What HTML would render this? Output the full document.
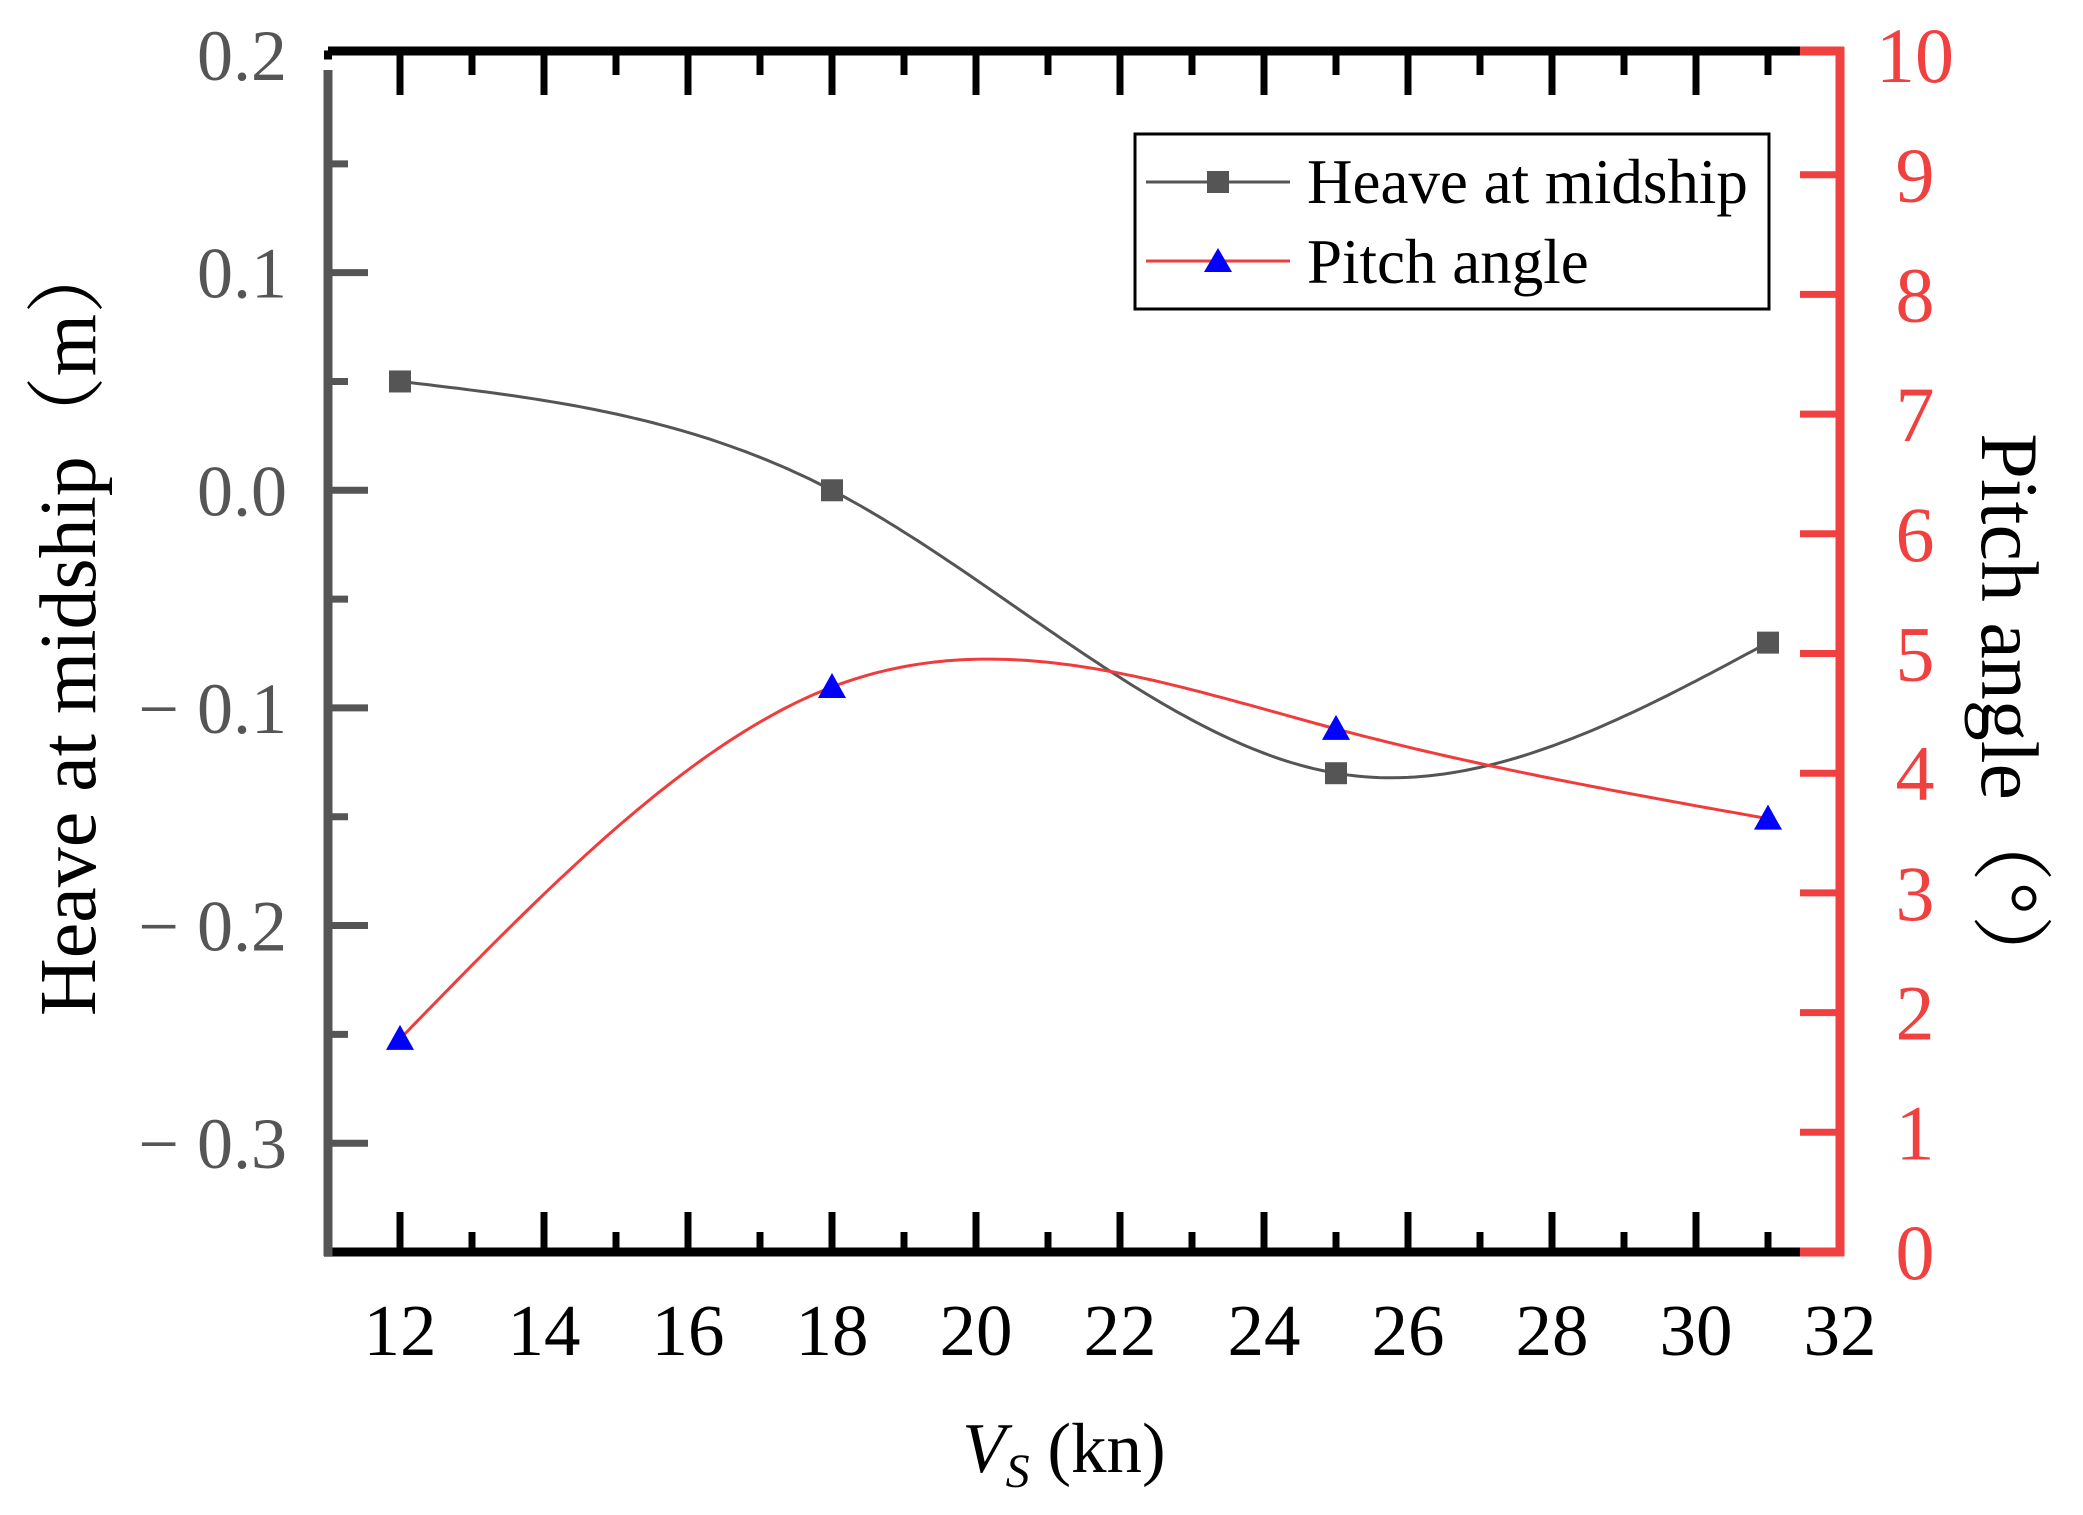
<!DOCTYPE html>
<html><head><meta charset="utf-8"><style>
html,body{margin:0;padding:0;background:#fff;}
svg{display:block;font-family:"Liberation Serif","Noto Serif CJK SC",serif;}
</style></head><body>
<svg id="s" width="2083" height="1515" viewBox="0 0 2083 1515" xmlns="http://www.w3.org/2000/svg">
<g id="ticks"></g>
<path id="heave" fill="none" stroke="#555" stroke-width="3"/>
<path id="pitch" fill="none" stroke="#f03c3c" stroke-width="3"/>
<g id="marks"></g>
<!-- axes -->
<line x1="328" y1="51" x2="1805" y2="51" stroke="#000" stroke-width="9"/>
<line x1="1800" y1="51" x2="1844" y2="51" stroke="#f04040" stroke-width="9"/>
<line x1="324" y1="1252" x2="1805" y2="1252" stroke="#000" stroke-width="9"/>
<line x1="328" y1="70" x2="328" y2="1256" stroke="#555" stroke-width="9"/>
<line x1="324" y1="55" x2="332" y2="55" stroke="#000" stroke-width="9"/>
<line x1="1840" y1="47" x2="1840" y2="1256" stroke="#f04040" stroke-width="9"/>
<line x1="1800" y1="1252" x2="1844" y2="1252" stroke="#f04040" stroke-width="9"/>
<!-- legend -->
<rect x="1135" y="134" width="634" height="175" fill="#fff" stroke="#000" stroke-width="3"/>
<line x1="1146" y1="182" x2="1290" y2="182" stroke="#555" stroke-width="3"/>
<rect x="1207" y="171" width="22" height="22" fill="#555"/>
<text x="1307" y="203" font-size="63" fill="#000">Heave at midship</text>
<line x1="1146" y1="261" x2="1290" y2="261" stroke="#f03c3c" stroke-width="3"/>
<polygon points="1218,248 1232,272 1204,272" fill="#0000ff"/>
<text x="1307" y="283" font-size="63" fill="#000">Pitch angle</text>
<!-- titles -->
<text transform="translate(95,625) rotate(-90)" text-anchor="middle" font-size="80" fill="#000">Heave at midship（m）</text>
<text transform="translate(1982,715) rotate(90)" text-anchor="middle" font-size="82" fill="#000">Pitch angle（°）</text>
<text x="1064" y="1472" text-anchor="middle" font-size="71" fill="#000"><tspan font-style="italic">V</tspan><tspan font-style="italic" font-size="48" dy="15">S</tspan><tspan dy="-15"> (kn)</tspan></text>
</svg>
<script>
var NS="http://www.w3.org/2000/svg";
function X(v){return 328+(v-11)*72;}
function YL(v){return 55+(0.2-v)*2176.4;}
function YR(v){return 1252-v*119.7;}
var tk=document.getElementById('ticks');
function el(n,a,p,t){var e=document.createElementNS(NS,n);for(var k in a)e.setAttribute(k,a[k]);if(t!==undefined)e.textContent=t;(p||tk).appendChild(e);return e;}
for(var v=12;v<=31;v++){var x=X(v),L=(v%2==0)?40:20;
 el('line',{x1:x,y1:1252,x2:x,y2:1252-L,stroke:'#000','stroke-width':7});
 el('line',{x1:x,y1:55,x2:x,y2:55+L,stroke:'#000','stroke-width':7});}
for(var v=12;v<=32;v+=2){el('text',{x:X(v),y:1355,'text-anchor':'middle','font-size':73,fill:'#000'},null,String(v));}
var ll=[[0.2,'0.2'],[0.1,'0.1'],[0,'0.0'],[-0.1,'\u2212 0.1'],[-0.2,'\u2212 0.2'],[-0.3,'\u2212 0.3']];
for(var i=-0.35;i<0.2;i+=0.05){var y=YL(i);var maj=Math.abs(Math.round(i*20))%2==0;
 if(y>60&&y<1248)el('line',{x1:328,y1:y,x2:328+(maj?40:20),y2:y,stroke:'#555','stroke-width':7});}
ll.forEach(function(a){el('text',{x:287,y:YL(a[0])+25,'text-anchor':'end','font-size':72,fill:'#555'},null,a[1]);});
for(var v=0;v<=10;v++){var y=YR(v);if(v>0&&v<10)el('line',{x1:1840,y1:y,x2:1800,y2:y,stroke:'#f04040','stroke-width':7});
 el('text',{x:1915,y:y+27,'text-anchor':'middle','font-size':78,fill:'#f04040'},null,String(v));}
function spline(xs,ys){var n=xs.length,h=[],a=[],l=[1],mu=[0],z=[0],c=new Array(n).fill(0),b=[],d=[];
 for(var i=0;i<n-1;i++)h[i]=xs[i+1]-xs[i];
 for(var i=1;i<n-1;i++)a[i]=3/h[i]*(ys[i+1]-ys[i])-3/h[i-1]*(ys[i]-ys[i-1]);
 for(var i=1;i<n-1;i++){l[i]=2*(xs[i+1]-xs[i-1])-h[i-1]*mu[i-1];mu[i]=h[i]/l[i];z[i]=(a[i]-h[i-1]*z[i-1])/l[i];}
 for(var j=n-2;j>=0;j--){c[j]=z[j]-mu[j]*c[j+1];}
 c[0]=0;for(var j=0;j<n-1;j++){b[j]=(ys[j+1]-ys[j])/h[j]-h[j]*(c[j+1]+2*c[j])/3;d[j]=(c[j+1]-c[j])/(3*h[j]);}
 return function(x){var j=0;while(j<n-2&&x>xs[j+1])j++;var t=x-xs[j];return ys[j]+b[j]*t+c[j]*t*t+d[j]*t*t*t;};}
var xs=[12,18,25,31],hv=[0.05,0,-0.13,-0.07],pv=[1.78,4.72,4.37,3.62];
var fh=spline(xs,hv),fp=spline(xs,pv),dh='',dp='';
for(var x=12;x<=31.001;x+=0.1){dh+=(dh?'L':'M')+X(x).toFixed(1)+','+YL(fh(x)).toFixed(1);dp+=(dp?'L':'M')+X(x).toFixed(1)+','+YR(fp(x)).toFixed(1);}
document.getElementById('heave').setAttribute('d',dh);document.getElementById('pitch').setAttribute('d',dp);
var mk=document.getElementById('marks');
for(var i=0;i<4;i++){var x=X(xs[i]);el('rect',{x:x-11,y:YL(hv[i])-11,width:22,height:22,fill:'#555'},mk);
 var y=YR(pv[i]);el('polygon',{points:x+','+(y-14)+' '+(x+14)+','+(y+11)+' '+(x-14)+','+(y+11),fill:'#0000ff'},mk);}
</script>
</body></html>
